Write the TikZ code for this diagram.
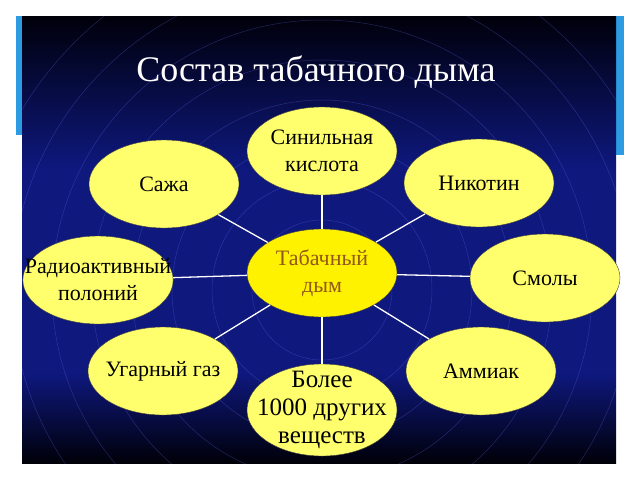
\documentclass[tikz,border=0pt]{standalone}
\usepackage{fontspec}
\setmainfont{Liberation Serif}
\usetikzlibrary{shapes.geometric,positioning,calc}
\definecolor{slidetop}{RGB}{0,0,10}
\definecolor{slidemid}{RGB}{14,24,125}
\definecolor{slidebot}{RGB}{0,0,8}
\definecolor{barblue}{RGB}{45,155,225}
\definecolor{palelemon}{RGB}{255,255,110}
\definecolor{smokebrown}{RGB}{145,88,25}
\pgfdeclareverticalshading{slidefade}{100bp}{color(0bp)=(slidebot); color(25bp)=(slidebot);
  color(35bp)=(slidemid); color(58bp)=(slidemid); color(75bp)=(slidetop); color(100bp)=(slidetop)}
\tikzset{
  part/.style={ellipse, draw=black!75, fill=palelemon, minimum width=150pt,
               minimum height=88pt, inner sep=-20pt, align=center,
               font=\fontsize{22}{27}\selectfont},
  hub/.style={part, fill=yellow, text=smokebrown},
  spoke/.style={white, line width=1.3pt},
  ring/.style={blue!55!white, opacity=0.3, line width=0.5pt},
}

\begin{document}
\begin{tikzpicture}[x=1pt,y=-1pt]
  \useasboundingbox (0,0) rectangle (640,480);
  \fill[white] (0,0) rectangle (640,480);

  % slide frame
  \fill[barblue] (16,16) rectangle (23,135);
  \fill[barblue] (612,16) rectangle (624,155);
  \shade[shading=slidefade] (22,16) rectangle (616,463);
  \begin{scope}
    \clip (22,16) rectangle (616,463);
    \foreach \r in {70,110,...,350} \draw[ring] (322,290) circle (\r);
  \end{scope}

  % title
  \node[white, font=\fontsize{36}{40}\selectfont] (title) at (316,72) {Состав табачного дыма};

  % parts
  \node[hub]  (smoke)  at (322,273) {Табачный\\дым};
  \node[part] (hcn)    at (322,151) {Синильная\\кислота};
  \node[part] (soot)   at (164,184) {Сажа};
  \node[part] (nic)    at (479,183) {Никотин};
  \node[part] (polon)  at (98,280)  {Радиоактивный\\полоний};
  \node[part] (tar)    at (545,278) {Смолы};
  \node[part] (co)     at (163,371) {Угарный газ};
  \node[part] (nh3)    at (481,371) {Аммиак};
  \node[part, minimum height=92pt, font=\fontsize{25}{28}\selectfont]
              (other)  at (322,410) {Более\\1000 других\\веществ};

  % spokes
  \foreach \n in {hcn,soot,nic,polon,tar,co,nh3,other}
    \draw[spoke] (smoke) -- (\n);
\end{tikzpicture}
\end{document}
